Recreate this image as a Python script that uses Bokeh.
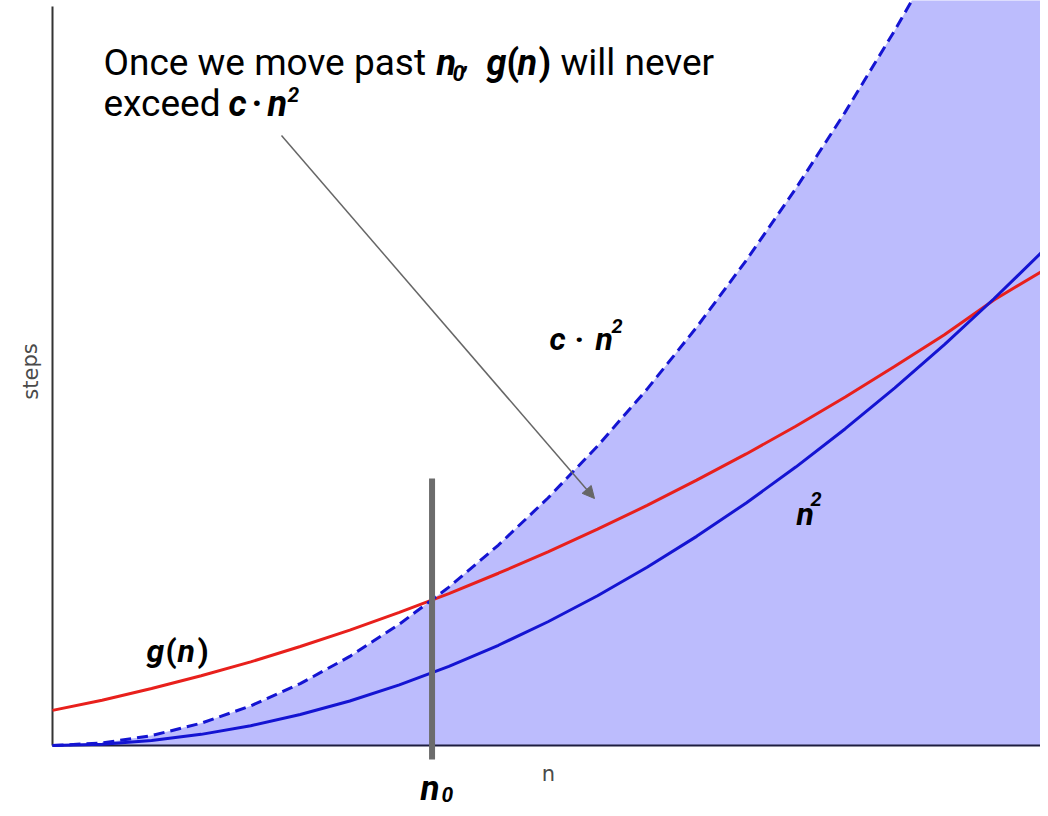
from bokeh.plotting import figure
from bokeh.models import Range1d, Arrow, NormalHead
from bokeh.core.properties import value
from bokeh.embed import file_html
from bokeh.resources import INLINE

# ---- data ----
n_vals = [0, 0.5, 1, 1.5, 2, 2.5, 3, 3.5, 4, 4.5, 5, 5.5, 6, 6.5, 7, 7.5, 8, 8.5, 9, 9.5, 10]
n_sq = [0, 0.25, 1, 2.25, 4, 6.25, 9, 12.25, 16, 20.25, 25, 30.25, 36, 42.25, 49, 56.25,
        64, 72.25, 81, 90.25, 100]
c_n_sq = [0, 0.5, 2, 4.5, 8, 12.5, 18, 24.5, 32, 40.5, 50, 60.5, 72, 84.5, 98, 112.5,
          128, 144.5, 162, 180.5, 200]
g_n = [7.1, 9.15, 11.5, 14.1, 16.9, 20.0, 23.3, 26.9, 30.7, 34.8, 39.1, 43.7, 48.5, 53.6,
       58.9, 64.5, 70.4, 76.6, 83.0, 90.0, 96.0]
n0 = 3.83
n_max = 10

# ---- mapping helpers (picture pixels -> data) for placing annotations ----
X0, SX = 52.0, 99.1     # pixel of n=0, pixels per unit n
Y0, SY = 745.0, 4.95    # pixel of steps=0, pixels per unit step


def dx(X):
    return (X - X0) / SX


def dy(Y):
    return (Y0 - Y) / SY


W, H = 1040, 808
p = figure(width=W, height=H, output_backend="svg", toolbar_location=None,
           x_range=Range1d(dx(0), dx(W)), y_range=Range1d(dy(H), dy(0)),
           x_axis_location=None, y_axis_location=None, min_border=0)
p.grid.visible = False
p.outline_line_color = None
p.background_fill_color = "white"

BLUE = "#1414d2"
RED = "#e8201c"
FILL = "#bcbcfd"

# shaded area under c*n^2
p.varea(x=n_vals, y1=[0] * len(n_vals), y2=c_n_sq, fill_color=FILL, fill_alpha=1.0)

# spines
p.line(x=[0, 0], y=[0, dy(6)], line_color="#333333", line_width=2)
p.line(x=[0, n_max], y=[0, 0], line_color="#1e1e40", line_width=2.2)

# curves
p.line(x=n_vals, y=g_n, line_color=RED, line_width=3)
p.line(x=n_vals, y=n_sq, line_color=BLUE, line_width=3)
p.line(x=n_vals, y=c_n_sq, line_color=BLUE, line_width=3, line_dash="11 6")

# n0 marker
p.line(x=[n0, n0], y=[dy(478), dy(759)], line_color="#6c6c6c", line_width=6)

# axis labels
p.text(x=[dx(30)], y=[dy(371)], text=["steps"], angle=1.5708, text_align="center",
       text_baseline="middle", text_font=value("DejaVu Sans"), text_font_size="21px",
       text_color="#4a4a4a")
p.text(x=[dx(548)], y=[dy(773)], text=["n"], text_align="center", text_baseline="middle",
       text_font=value("DejaVu Sans"), text_font_size="21px", text_color="#4a4a4a")

F = value("Roboto")


def seg(X, Y, s, size, style="normal"):
    p.text(x=[dx(X)], y=[dy(Y)], text=[s], text_align="left", text_baseline="alphabetic",
           text_font=F, text_font_size=f"{size}px", text_font_style=style,
           text_color="#000000")


BI = "bold italic"
# annotation text, line 1
seg(103, 62, "Once we move past", 37)
seg(436, 62, "n", 36, BI)
seg(452, 72, "0", 22, BI)
seg(463, 60, ",", 24, BI)
seg(486, 62, "g", 36, BI)
seg(506, 62, "(", 36, "bold")
seg(517, 62, "n", 36, BI)
seg(538, 62, ")", 36, "bold")
seg(560, 62, "will never", 37)
# line 2
seg(103, 103, "exceed", 37)
seg(228, 103, "c", 36, BI)
seg(251, 103, "\u00b7", 36, "bold")
seg(267, 103, "n", 36, BI)
seg(287, 94, "2", 21, BI)

# curve labels
seg(146, 650, "g", 32, BI)
seg(165, 650, "(", 32, "bold")
seg(177, 650, "n", 32, BI)
seg(197, 650, ")", 32, "bold")

seg(549, 338, "c", 32, BI)
seg(574, 338, "\u00b7", 32, "bold")
seg(595, 338, "n", 32, BI)
seg(611, 325, "2", 20, BI)

seg(796, 513, "n", 32, BI)
seg(810, 498, "2", 20, BI)

seg(420, 788, "n", 35, BI)
seg(441, 794, "0", 21, BI)

# arrow
p.add_layout(Arrow(end=NormalHead(size=12, fill_color="#666666", line_color="#666666"),
                   x_start=dx(281), y_start=dy(135), x_end=dx(594), y_end=dy(498),
                   line_color="#666666", line_width=1.5))

open("out.html", "w").write(file_html(p, INLINE))
